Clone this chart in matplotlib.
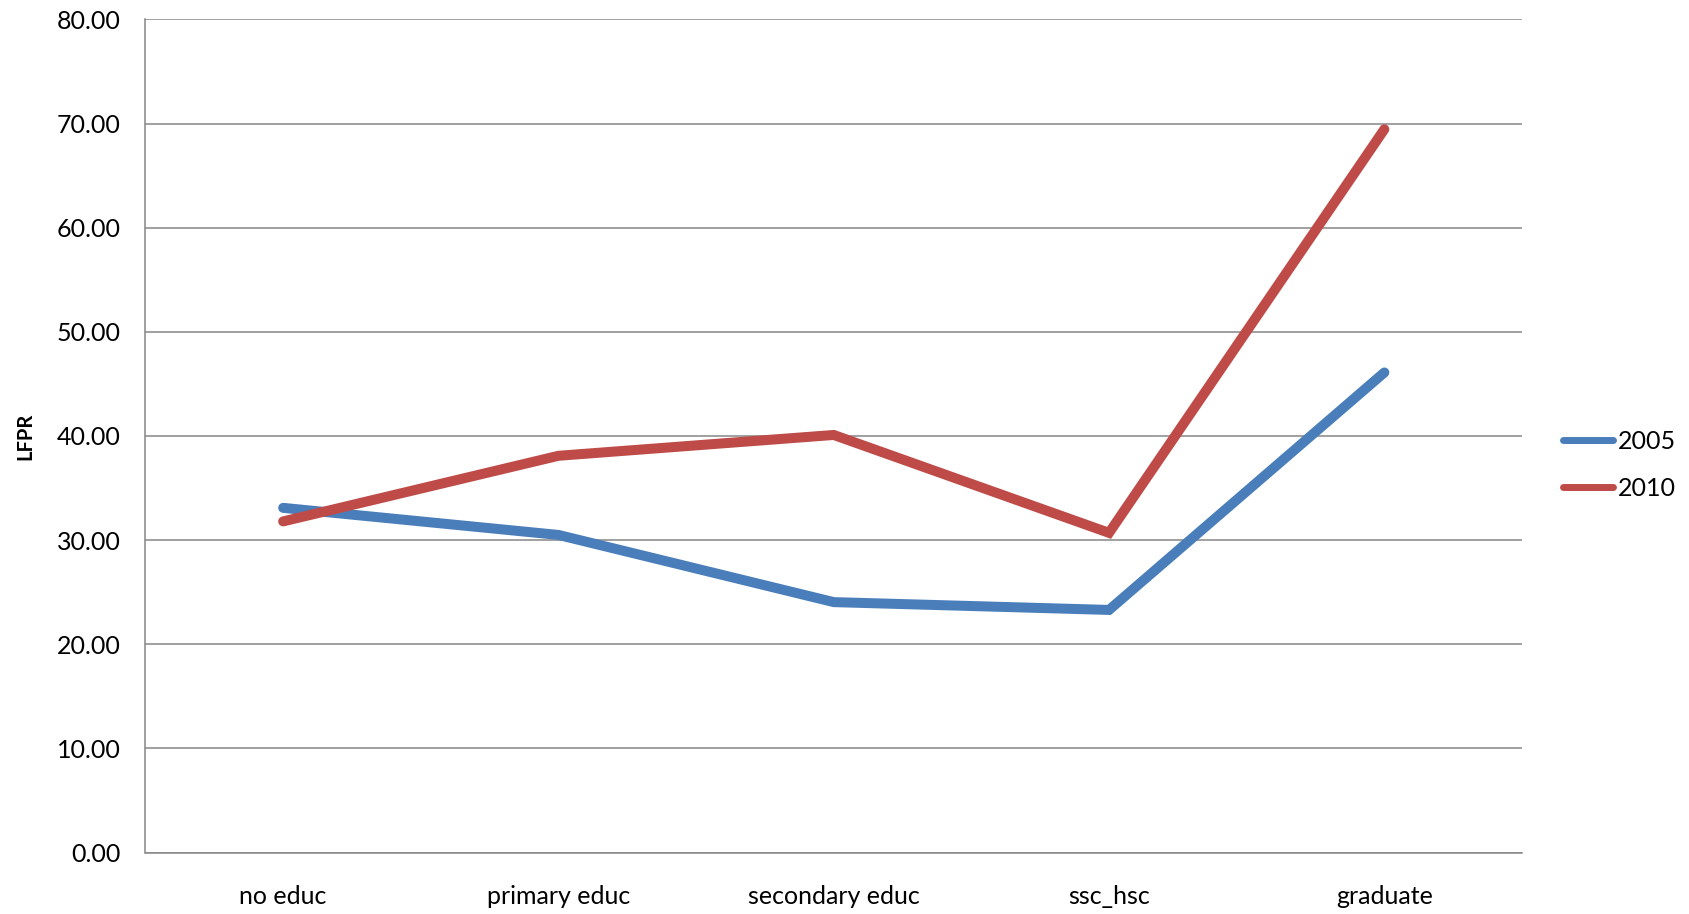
import matplotlib
matplotlib.use("Agg")
import matplotlib.pyplot as plt

categories = ["no educ", "primary educ", "secondary educ", "ssc_hsc", "graduate"]
series_names = ["2005", "2010"]
values_2005 = [33.1, 30.5, 24.05, 23.3, 46.1]
values_2010 = [31.8, 38.1, 40.1, 30.7, 69.45]
y_ticks = [0, 10, 20, 30, 40, 50, 60, 70, 80]
colors = ["#4A7EBB", "#BE4B48"]

plt.rcParams['font.family'] = ['Lato', 'DejaVu Sans']

fig = plt.figure(figsize=(16.9, 9.14), dpi=100)
ax = fig.add_axes([145.5/1690, 1 - 852.6/914, (1522-145.5)/1690, (852.6-19.4)/914])

x = list(range(len(categories)))
for name, vals, c in zip(series_names, [values_2005, values_2010], colors):
    ax.plot(x, vals, color=c, lw=7.2, solid_capstyle='round', solid_joinstyle='miter', label=name, zorder=3)

ax.set_xlim(-0.5, len(categories) - 0.5)
ax.set_ylim(0, 80)
ax.set_yticks(y_ticks)
ax.set_yticklabels([f"{v:.2f}" for v in y_ticks])
ax.set_xticks(x)
ax.set_xticklabels(categories)
ax.yaxis.grid(True, color="#868686", lw=1.1)
ax.set_axisbelow(True)
for s in ["top", "right"]:
    ax.spines[s].set_visible(False)
for s in ["left", "bottom"]:
    ax.spines[s].set_color("#868686")
    ax.spines[s].set_linewidth(1.1)
ax.tick_params(axis='both', length=0, labelsize=18, colors='black')
ax.tick_params(axis='x', pad=23)
ax.tick_params(axis='y', pad=18)
ax.set_ylabel("LFPR", fontsize=14.5, fontweight='bold', labelpad=15)

leg = ax.legend(loc='center left', bbox_to_anchor=(1563/1690, 1 - 465/914), bbox_transform=fig.transFigure,
                frameon=False, fontsize=18, handlelength=2.0, handletextpad=0.2, labelspacing=0.95,
                borderaxespad=0, borderpad=0)
for line in leg.get_lines():
    line.set_linewidth(5)
    line.set_solid_capstyle('round')

fig.savefig("out.png", dpi=100, facecolor='white')
